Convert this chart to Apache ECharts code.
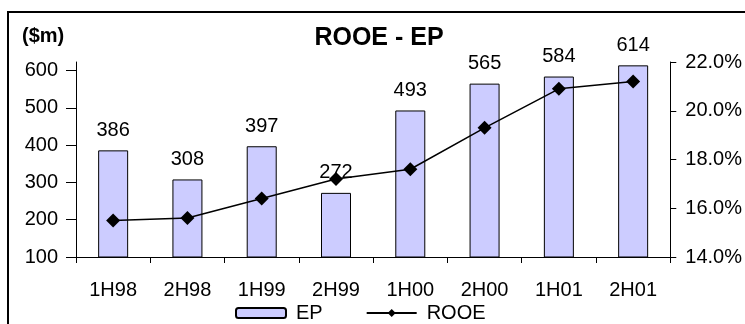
<!DOCTYPE html>
<html>
<head>
<meta charset="utf-8">
<script src="https://cdn.jsdelivr.net/npm/echarts@6/dist/echarts.min.js"></script>
<style>
  html, body { margin: 0; padding: 0; background: #fff; }
  #chart { width: 745px; height: 324px; }
</style>
</head>
<body>
<div id="chart"></div>
<script>
// Half-year periods
const periods = ['1H98', '2H98', '1H99', '2H99', '1H00', '2H00', '1H01', '2H01'];
// EP in $m (bars)
const epValues = [386, 308, 397, 272, 493, 565, 584, 614];
// ROOE in % (line, right axis)
const rooeValues = [15.5, 15.6, 16.4, 17.2, 17.6, 19.3, 20.9, 21.2];
// Axis tick values
const epTicks = [100, 200, 300, 400, 500, 600];
const rooeTicks = [14, 16, 18, 20, 22];

const font = 'Liberation Sans, Arial, sans-serif';
const chart = echarts.init(document.getElementById('chart'), null, { renderer: 'canvas' });

chart.setOption({
  animation: false,
  backgroundColor: '#ffffff',
  textStyle: { fontFamily: font, color: '#000' },
  title: {
    text: 'ROOE - EP',
    left: 379,
    textAlign: 'center',
    top: 26,
    padding: 0,
    textStyle: { fontFamily: font, fontSize: 25, fontWeight: 'bold', color: '#000' }
  },
  graphic: [
    {
      type: 'rect',
      shape: { x: 8, y: 12, width: 800, height: 400 },
      style: { fill: 'none', stroke: '#000', lineWidth: 2 },
      silent: true
    },
    {
      type: 'text',
      left: 22,
      top: 26,
      style: { text: '($m)', font: 'bold 20px ' + font, fill: '#000' }
    }
  ],
  legend: {
    top: 303,
    left: 235,
    padding: 0,
    itemWidth: 50,
    itemHeight: 10,
    itemGap: 43,
    textStyle: { fontFamily: font, fontSize: 20, color: '#000', padding: [0, 0, 0, 5] },
    data: ['EP', 'ROOE']
  },
  grid: { left: 76, right: 70, top: 62, bottom: 67, containLabel: false },
  xAxis: {
    type: 'category',
    data: periods,
    boundaryGap: true,
    axisLine: { lineStyle: { color: '#000', width: 1 } },
    axisTick: { show: true, length: 6, interval: 0, lineStyle: { color: '#000' } },
    axisLabel: { margin: 23, fontSize: 20, fontFamily: font, color: '#000', interval: 0 },
    splitLine: { show: false }
  },
  yAxis: [
    {
      type: 'value',
      position: 'left',
      min: 100,
      max: 623,
      interval: 100,
      axisLine: { show: true, lineStyle: { color: '#000', width: 1 } },
      axisTick: { show: true, length: 10, customValues: epTicks, lineStyle: { color: '#000' } },
      axisLabel: { margin: 18, fontSize: 20, fontFamily: font, color: '#000', customValues: epTicks },
      splitLine: { show: false }
    },
    {
      type: 'value',
      position: 'right',
      min: 14,
      max: 22,
      interval: 2,
      axisLine: { show: true, lineStyle: { color: '#000', width: 1 } },
      axisTick: { show: true, length: 6, lineStyle: { color: '#000' } },
      axisLabel: {
        margin: 15, fontSize: 20, fontFamily: font, color: '#000',
        customValues: rooeTicks,
        formatter: v => v.toFixed(1) + '%'
      },
      splitLine: { show: false }
    }
  ],
  series: [
    {
      name: 'EP',
      type: 'bar',
      yAxisIndex: 0,
      data: epValues,
      barWidth: 30,
      itemStyle: { color: '#CCCCFF', borderColor: '#000', borderWidth: 1 },
      label: {
        show: true, position: 'top', distance: 10,
        fontSize: 20, fontFamily: font, color: '#000'
      },
      z: 2
    },
    {
      name: 'ROOE',
      type: 'line',
      yAxisIndex: 1,
      data: rooeValues,
      symbol: 'diamond',
      symbolSize: 14,
      lineStyle: { color: '#000', width: 1.5 },
      itemStyle: { color: '#000' },
      z: 3
    }
  ]
});
</script>
</body>
</html>
